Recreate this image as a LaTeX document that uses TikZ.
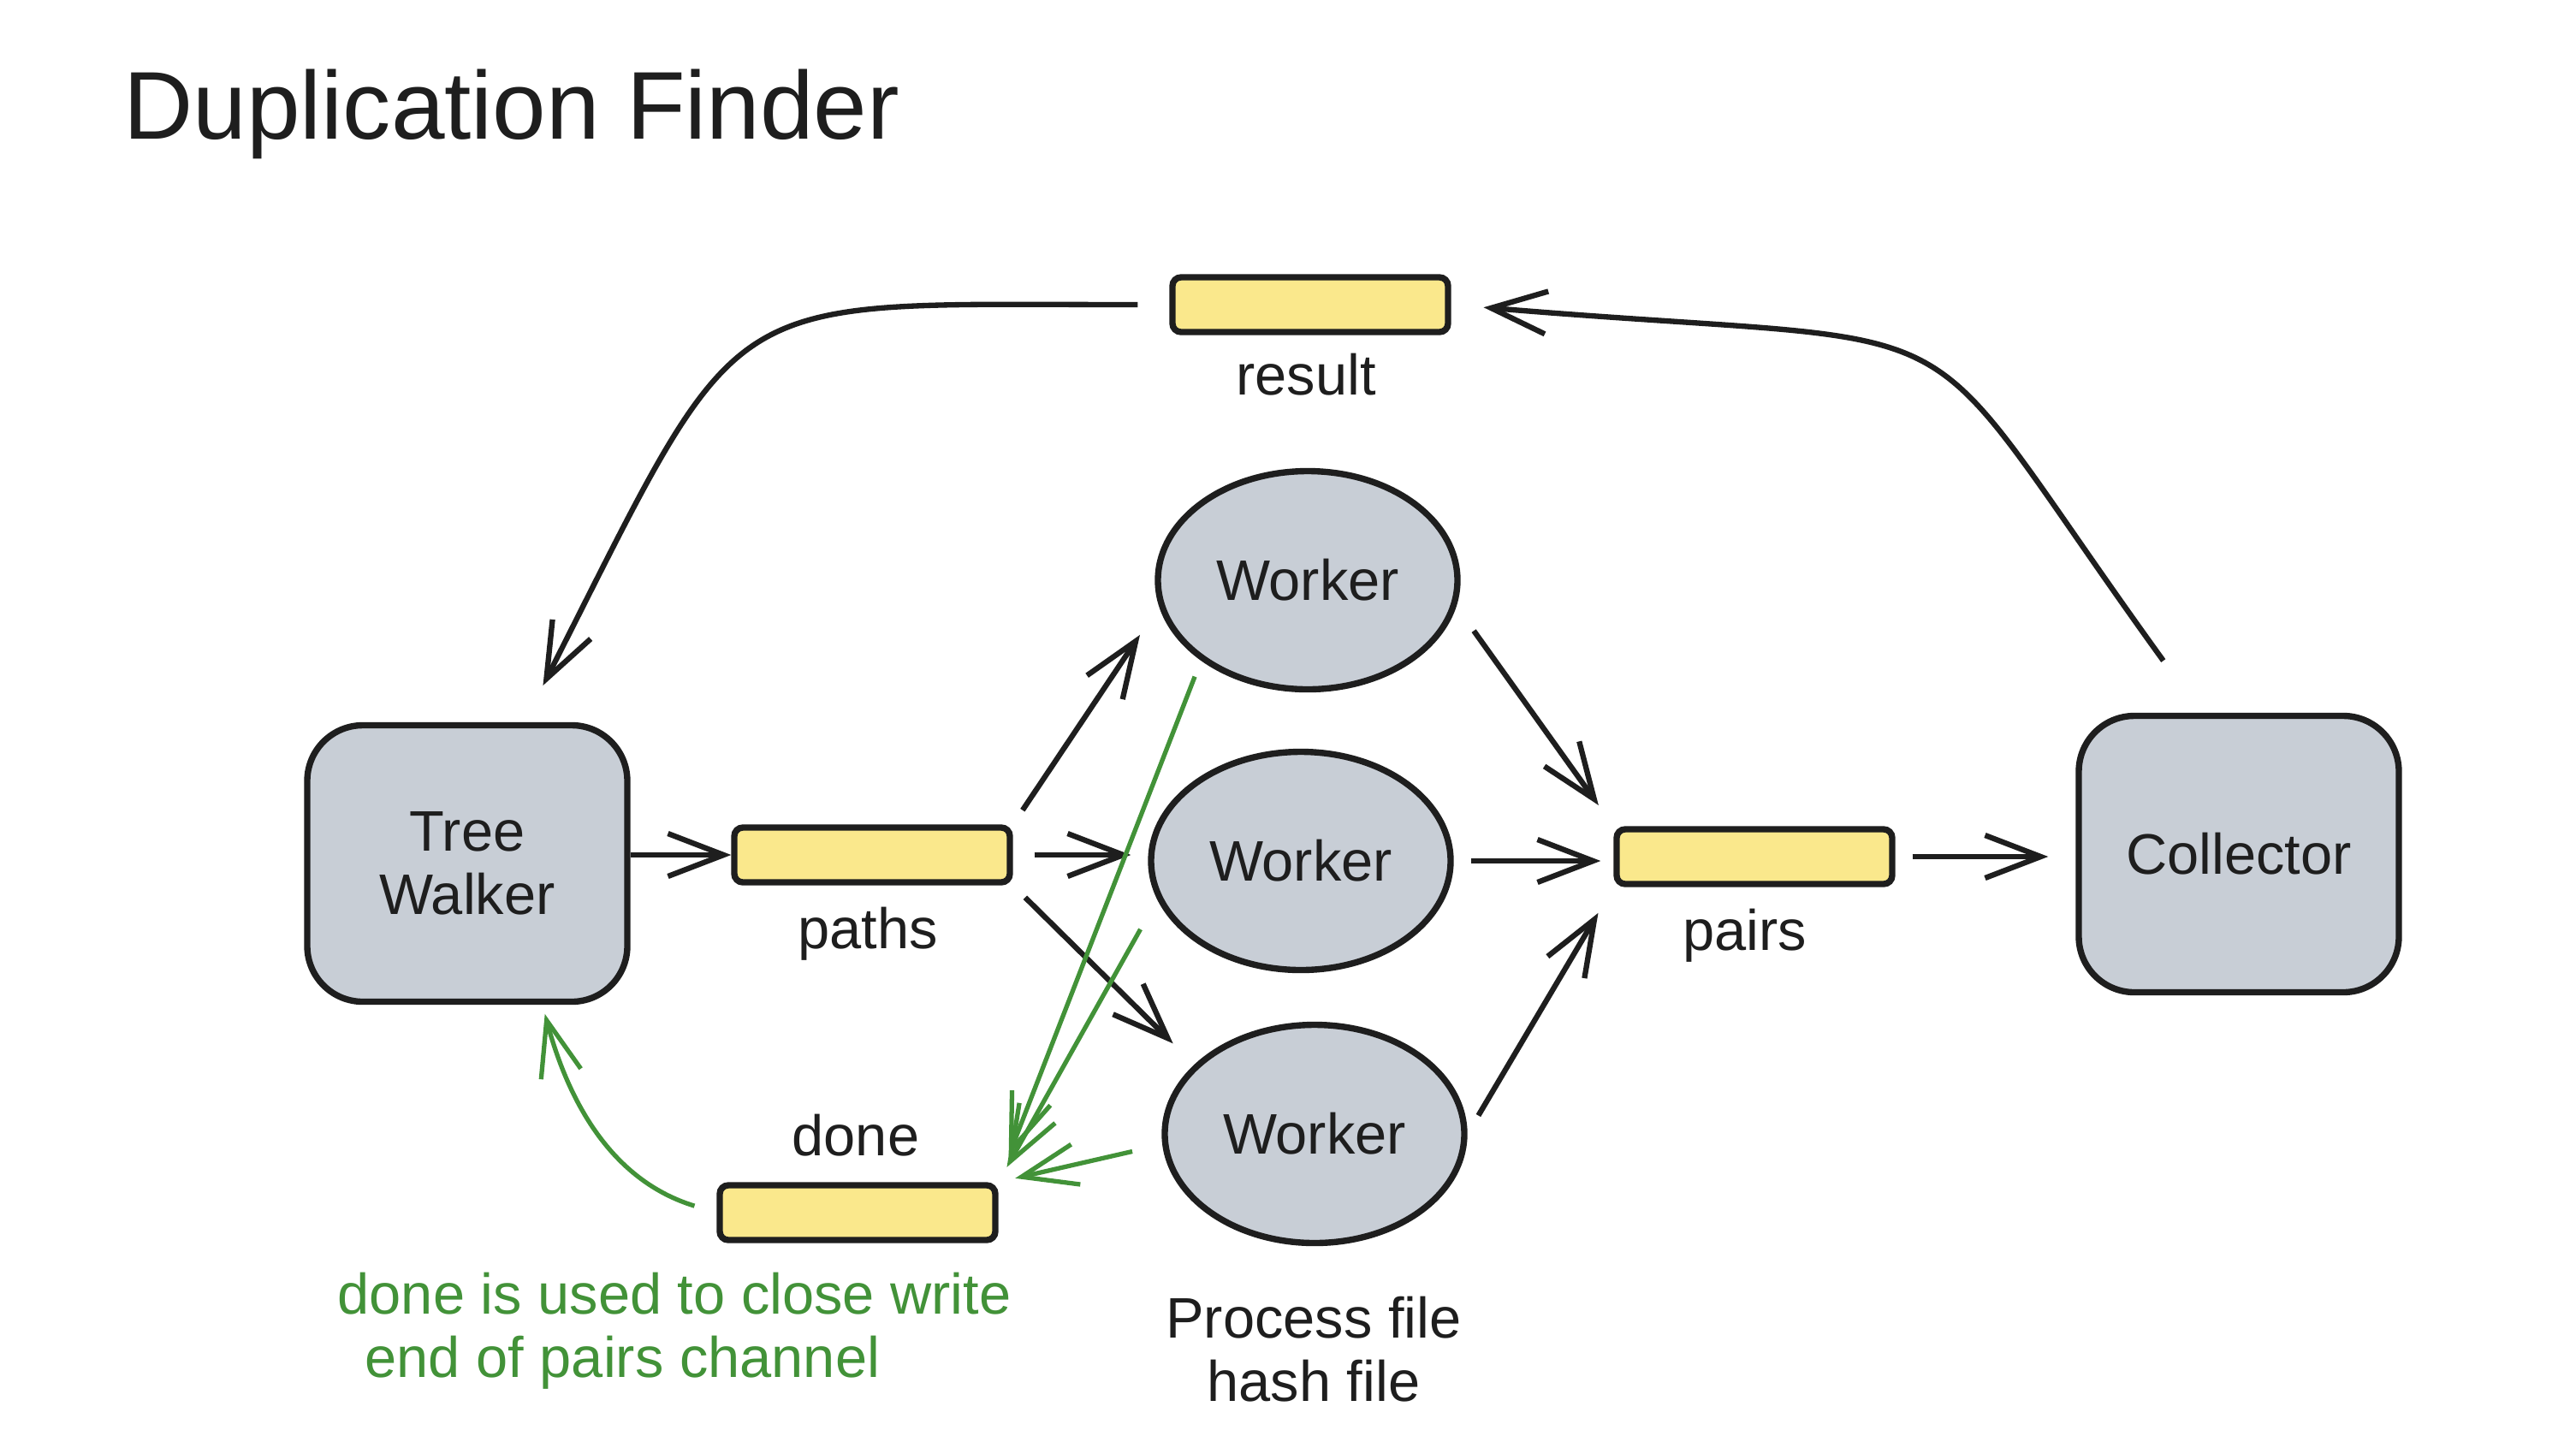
\documentclass[tikz,border=0pt]{standalone}
\usepackage{fontspec}
\setmainfont{Liberation Sans}
\usepackage{tikz}
\usetikzlibrary{shapes.geometric, arrows.meta, positioning, calc}
\usepackage{xcolor}
\definecolor{inkcolor}{RGB}{30,30,30}
\definecolor{boxcolor}{RGB}{200,206,214}
\definecolor{chancolor}{RGB}{250,232,140}
\definecolor{notecolor}{RGB}{66,146,56}

\begin{document}
\begin{tikzpicture}[
    procbox/.style={rectangle, draw=inkcolor, line width=2.1pt, rounded corners=0.65cm, fill=boxcolor, minimum width=3.74cm, minimum height=3.23cm, align=center, text=inkcolor, font=\fontsize{19}{21}\selectfont},
    workerbox/.style={ellipse, draw=inkcolor, line width=2.1pt, fill=boxcolor, minimum width=3.5cm, minimum height=2.55cm, text=inkcolor, font=\fontsize{19}{21}\selectfont},
    chanbar/.style={rectangle, draw=inkcolor, line width=2.1pt, rounded corners=0.1cm, fill=chancolor, minimum width=3.22cm, minimum height=0.64cm, inner sep=0pt},
    chanlabel/.style={anchor=base, inner sep=0pt, text=inkcolor, font=\fontsize{19}{21}\selectfont},
    arrow/.style={-{Straight Barb[length=0.65cm, width=0.5cm]}, line width=1.8pt, draw=inkcolor},
    donearrow/.style={-{Straight Barb[length=0.65cm, width=0.48cm]}, line width=1.5pt, draw=notecolor}
]
\useasboundingbox[fill=white] (0,0) rectangle (30.1,-16.7);

\node[anchor=base west, inner sep=0pt, text=inkcolor, font=\fontsize{32}{38}\selectfont] (title) at (1.44,-1.62) {Duplication Finder};

\node[procbox] (walker) at (5.46,-10.09) {Tree\\Walker};
\node[chanbar] (paths) at (10.19,-9.99) {};
\node[workerbox] (w1) at (15.28,-6.78) {Worker};
\node[workerbox] (w2) at (15.20,-10.06) {Worker};
\node[workerbox] (w3) at (15.36,-13.25) {Worker};
\node[chanbar] (pairs) at (20.50,-10.01) {};
\node[procbox] (coll) at (26.16,-9.98) {Collector};
\node[chanbar] (result) at (15.31,-3.56) {};
\node[chanbar] (done) at (10.02,-14.17) {};

\node[chanlabel] (resultlbl) at (15.26,-4.61) {result};
\node[chanlabel] (pathslbl) at (10.14,-11.08) {paths};
\node[chanlabel] (pairslbl) at (20.39,-11.10) {pairs};
\node[chanlabel] (donelbl) at (10.00,-13.50) {done};
\node[chanlabel, anchor=base west, align=left, text=notecolor] (note) at (3.94,-16.09) {done is used to close write\\\hspace*{0.32cm}end of pairs channel};
\node[chanlabel, align=center] (proclbl) at (15.35,-16.37) {Process file\\hash file};

\draw[arrow] (walker.east |- paths.west) -- (paths.west);
\draw[arrow, shorten <=0.2cm, shorten >=0.4cm] (paths.north east) -- (w1.190);
\draw[arrow, shorten <=0.25cm, shorten >=0.2cm] (paths.east) -- (paths.east -| w2.west);
\draw[arrow, shorten <=0.2cm, shorten >=0.35cm] (paths.south east) -- (w3.150);
\draw[arrow, shorten <=0.35cm, shorten >=0.3cm] (w1.-10) -- (pairs.north west);
\draw[arrow, shorten <=0.2cm, shorten >=0.15cm] (w2.east) -- (w2.east -| pairs.west);
\draw[arrow, shorten <=0.25cm, shorten >=0.35cm] (w3.east) -- (pairs.south west);
\draw[arrow, shorten <=0.2cm, shorten >=0.32cm] (pairs.east) -- (pairs.east -| coll.west);
\draw[arrow, shorten <=0.75cm, shorten >=0.38cm] (coll.105) .. controls +(-3.6,4.98) and +(6.54,-0.55) .. (result.east);
\draw[arrow, shorten <=0.37cm, shorten >=0.48cm] (result.west) .. controls +(-5.35,0) and +(2.62,5.16) .. (walker.68);

\draw[donearrow, shorten <=0.2cm, shorten >=0.33cm] (w1.217) -- (done.north east);
\draw[donearrow, shorten <=0.4cm, shorten >=0.2cm] (w2.195) -- (done.north east);
\draw[donearrow, shorten <=0.36cm, shorten >=0.2cm] (w3.184) -- (done.north east);
\draw[donearrow, shorten <=0.27cm, shorten >=0.11cm] (done.west) to[out=163, in=-75] (walker.-62);
\end{tikzpicture}
\end{document}
